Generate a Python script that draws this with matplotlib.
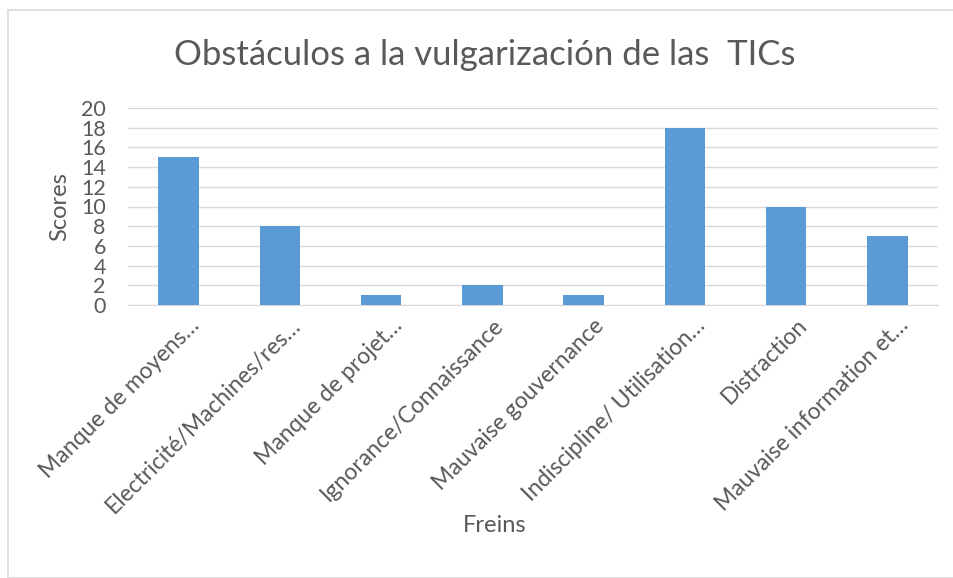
import matplotlib
matplotlib.use("Agg")
import matplotlib.pyplot as plt
import matplotlib.transforms as mtransforms
from matplotlib.patches import Rectangle

# data
categories = [
    "Manque de moyens…",
    "Electricité/Machines/res…",
    "Manque de projet…",
    "Ignorance/Connaissance",
    "Mauvaise gouvernance",
    "Indiscipline/ Utilisation…",
    "Distraction",
    "Mauvaise information et…",
]
scores = [15, 8, 1, 2, 1, 18, 10, 7]
y_ticks = list(range(0, 21, 2))

plt.rcParams["font.family"] = ["Lato", "DejaVu Sans"]
text_color = "#595959"
bar_color = "#5B9BD5"
grid_color = "#D9D9D9"

W, H = 954, 578
fig = plt.figure(figsize=(W / 100, H / 100), dpi=100)

# chart border
fig.patches.append(
    Rectangle((8 / W, 0), 1, 1 - 10 / H,
              transform=fig.transFigure, fill=False,
              edgecolor="#D9D9D9", linewidth=1.2)
)

ax = fig.add_axes([128 / W, 1 - 305 / H, 810 / W, 197 / H])

x = range(len(categories))
ax.bar(x, scores, width=0.4, color=bar_color, zorder=3)

ax.set_ylim(0, 20)
ax.set_xlim(-0.5, len(categories) - 0.5)
ax.set_yticks(y_ticks)
ax.set_yticklabels([str(v) for v in y_ticks], fontsize=15.5, color=text_color)
ax.grid(axis="y", color=grid_color, linewidth=1, zorder=0)
ax.tick_params(axis="y", length=0, pad=16)
ax.tick_params(axis="x", length=0, pad=7)

ax.set_xticks(list(x))
ax.set_xticklabels(categories, rotation=45, ha="right",
                   rotation_mode="anchor", fontsize=16.5, color=text_color)
shift = mtransforms.ScaledTranslation(10 / 100, 0, fig.dpi_scale_trans)
for lbl in ax.get_xticklabels():
    lbl.set_transform(lbl.get_transform() + shift)

for side in ["top", "right", "left"]:
    ax.spines[side].set_visible(False)
ax.spines["bottom"].set_color(grid_color)

fig.text(60 / W, 1 - 207 / H, "Scores", rotation=90, ha="center",
         va="center", fontsize=17, color=text_color)
fig.text(495 / W, 1 - 525 / H, "Freins", ha="center", va="center",
         fontsize=17, color=text_color)

fig.text(485 / W, 1 - 55 / H, "Obstáculos a la vulgarización de las  TICs",
         ha="center", va="center", fontsize=25, color=text_color)

fig.savefig("out.png", dpi=100)
